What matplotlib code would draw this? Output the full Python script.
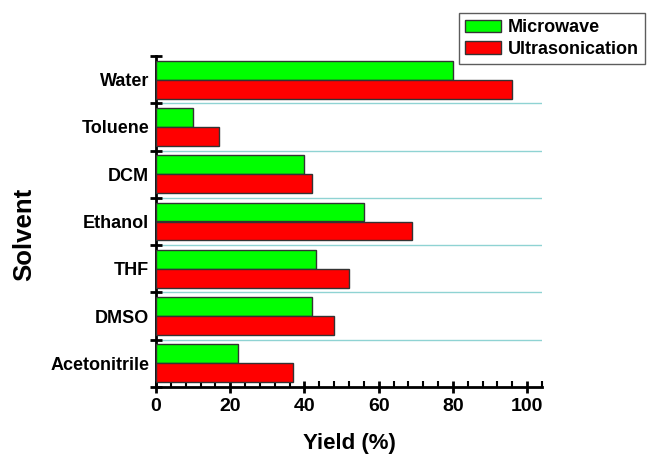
import matplotlib
matplotlib.use("Agg")
import matplotlib.pyplot as plt
import numpy as np
from matplotlib.patches import Patch
from matplotlib.ticker import MultipleLocator, FixedLocator

solvents = ['Water', 'Toluene', 'DCM', 'Ethanol', 'THF', 'DMSO', 'Acetonitrile']
microwave = [80, 10, 40, 56, 43, 42, 22]
ultrasonication = [96, 17, 42, 69, 52, 48, 37]

plt.rcParams['font.family'] = ['Liberation Sans', 'DejaVu Sans']
plt.rcParams['font.weight'] = 'bold'

fig = plt.figure(figsize=(6.52, 4.57), dpi=100)
ax = fig.add_axes([156/652, 1-387/457, (542-156)/652, (387-56)/457])

y = np.arange(len(solvents))
h = 0.4
ax.barh(y - h/2, microwave, height=h, color='#00ff00', edgecolor='#333333', linewidth=1, zorder=3)
ax.barh(y + h/2, ultrasonication, height=h, color='#ff0000', edgecolor='#333333', linewidth=1, zorder=3)

ax.set_xlim(0, 104)
ax.set_ylim(len(solvents) - 0.5, -0.5)

for b in np.arange(0.5, len(solvents) - 0.5, 1):
    ax.axhline(b, color='#8fd3d3', linewidth=1, zorder=1)

ax.spines['top'].set_visible(False)
ax.spines['right'].set_visible(False)
ax.spines['left'].set_linewidth(2)
ax.spines['bottom'].set_linewidth(2)

ax.xaxis.set_major_locator(FixedLocator([0, 20, 40, 60, 80, 100]))
ax.xaxis.set_minor_locator(MultipleLocator(4))
ax.tick_params(axis='x', which='major', direction='inout', length=8, width=2, labelsize=14, pad=4)
ax.tick_params(axis='x', which='minor', direction='in', length=4, width=1.5)

ax.yaxis.set_major_locator(FixedLocator(np.arange(-0.5, len(solvents), 1)))
ax.yaxis.set_major_formatter(plt.NullFormatter())
ax.set_yticks(y, minor=True)
ax.set_yticklabels(solvents, minor=True)
ax.tick_params(axis='y', which='major', direction='inout', length=8, width=2)
ax.tick_params(axis='y', which='minor', length=0, labelsize=13, pad=5)

ax.set_xlabel('Yield (%)', fontsize=16, fontweight='bold', labelpad=13)
ax.set_ylabel('Solvent', fontsize=18.5, fontweight='bold')
ax.yaxis.set_label_coords(-0.31, 0.462)

handles = [Patch(facecolor='#00ff00', edgecolor='#333333', label='Microwave'),
           Patch(facecolor='#ff0000', edgecolor='#333333', label='Ultrasonication')]
leg = fig.legend(handles=handles, loc='upper left', bbox_to_anchor=(459/652, 1-13/457),
                 fontsize=13, frameon=True, fancybox=False, edgecolor='#333333',
                 handlelength=1.95, handleheight=0.7, handletextpad=0.4,
                 borderpad=0.35, labelspacing=0.25, borderaxespad=0)
leg.get_frame().set_linewidth(1)

fig.savefig('out.png', dpi=100)
